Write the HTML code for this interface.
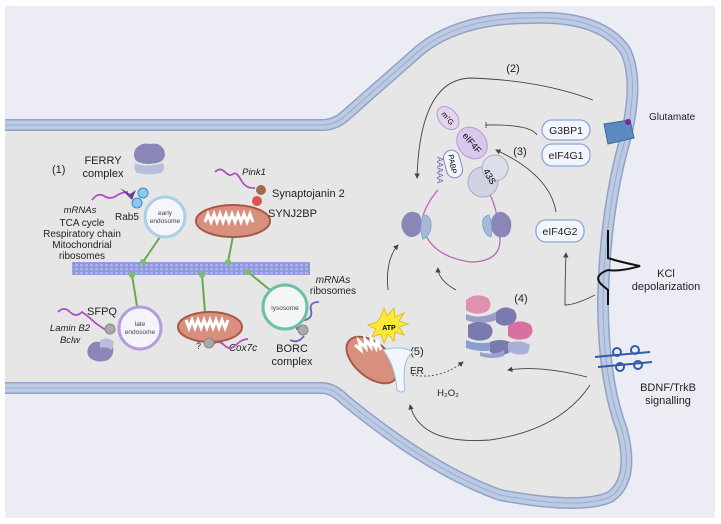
<!DOCTYPE html>
<html><head><meta charset="utf-8"><style>
html,body{margin:0;padding:0;background:#fff;}
svg{display:block;font-family:"Liberation Sans",sans-serif;}
</style></head><body>
<svg width="721" height="524" viewBox="0 0 721 524" xmlns="http://www.w3.org/2000/svg">
<defs>
<marker id="ar" markerWidth="6" markerHeight="6" refX="5" refY="3" orient="auto"><path d="M0,0 L6,3 L0,6 Z" fill="#444"/></marker>
<pattern id="mt" width="5" height="4" patternUnits="userSpaceOnUse"><rect width="5" height="4" fill="#8e96dc"/><rect width="3" height="2.5" fill="#aab1ec"/></pattern>
</defs>
<rect x="0" y="0" width="721" height="524" fill="#fff"/>
<rect x="5" y="6" width="710" height="512" fill="#ececf5"/>
<!-- cell -->
<path d="M0,125 L322,125 Q335,125 345,116 L420,50 Q460,18 530,18 Q600,15 625,50 Q640,80 625,140 Q605,210 603,300 Q603,380 622,430 Q635,480 610,497 Q580,510 500,495 Q430,470 345,400 Q333,388 322,388 L0,388 Z" fill="#e6e6e6"/>
<path d="M0,125 L322,125 Q335,125 345,116 L420,50 Q460,18 530,18 Q600,15 625,50 Q640,80 625,140 Q605,210 603,300 Q603,380 622,430 Q635,480 610,497 Q580,510 500,495 Q430,470 345,400 Q333,388 322,388 L0,388" fill="none" stroke="#8fa3c4" stroke-width="12"/>
<path d="M0,125 L322,125 Q335,125 345,116 L420,50 Q460,18 530,18 Q600,15 625,50 Q640,80 625,140 Q605,210 603,300 Q603,380 622,430 Q635,480 610,497 Q580,510 500,495 Q430,470 345,400 Q333,388 322,388 L0,388" fill="none" stroke="#bccbe3" stroke-width="9"/>
<path d="M0,125 L322,125 Q335,125 345,116 L420,50 Q460,18 530,18 Q600,15 625,50 Q640,80 625,140 Q605,210 603,300 Q603,380 622,430 Q635,480 610,497 Q580,510 500,495 Q430,470 345,400 Q333,388 322,388 L0,388" fill="none" stroke="#9aaccc" stroke-width="1"/>
<rect x="0" y="0" width="5" height="524" fill="#fff"/>
<rect x="715" y="0" width="6" height="524" fill="#fff"/>

<!-- microtubule -->
<rect x="72" y="262" width="238" height="13" fill="url(#mt)"/>
<g stroke="#6aa84f" stroke-width="2" fill="none">
<line x1="160" y1="237" x2="143" y2="262"/><line x1="132" y1="275" x2="137" y2="306"/>
<line x1="233" y1="236" x2="228" y2="262"/><line x1="202" y1="275" x2="205" y2="312"/>
<line x1="248" y1="272" x2="270" y2="290"/>
</g>
<g fill="#7cbf5a"><circle cx="143" cy="262" r="3"/><circle cx="132" cy="275" r="3"/><circle cx="228" cy="262" r="3"/><circle cx="202" cy="275" r="3"/><circle cx="248" cy="272" r="3"/></g>

<g font-size="11" fill="#222">
<text x="52" y="173">(1)</text>
<text x="103" y="164" text-anchor="middle">FERRY</text>
<text x="103" y="177" text-anchor="middle">complex</text>
<text x="115" y="220" font-size="10">Rab5</text>
<text x="80" y="213" text-anchor="middle" font-size="9.5" font-style="italic">mRNAs</text>
<text x="82" y="226" text-anchor="middle" font-size="10">TCA cycle</text>
<text x="82" y="237" text-anchor="middle" font-size="10">Respiratory chain</text>
<text x="82" y="248" text-anchor="middle" font-size="10">Mitochondrial</text>
<text x="82" y="259" text-anchor="middle" font-size="10">ribosomes</text>
<text x="254" y="175" font-size="9.5" font-style="italic" text-anchor="middle">Pink1</text>
<text x="272" y="197" font-size="11">Synaptojanin 2</text>
<text x="268" y="217" font-size="11">SYNJ2BP</text>
<text x="102" y="315" font-size="11" text-anchor="middle">SFPQ</text>
<text x="70" y="331" font-size="9.5" font-style="italic" text-anchor="middle">Lamin B2</text>
<text x="70" y="343" font-size="9.5" font-style="italic" text-anchor="middle">Bclw</text>
<text x="196" y="349" font-size="9">?</text>
<text x="243" y="351" font-size="10" font-style="italic" text-anchor="middle">Cox7c</text>
<text x="333" y="283" font-size="10" font-style="italic" text-anchor="middle">mRNAs</text>
<text x="333" y="294" font-size="10" text-anchor="middle">ribosomes</text>
<text x="292" y="352" font-size="11" text-anchor="middle">BORC</text>
<text x="292" y="365" font-size="11" text-anchor="middle">complex</text>
</g>

<g fill="none" stroke="#b04fc0" stroke-width="1.8">
<path d="M92,200 q6,-8 12,-4 t12,0 t12,-4"/>
<path d="M215,172 q5,-5 10,0 t8,2 t8,6 t14,8"/>
<path d="M58,312 q6,-6 12,0 t12,0 q6,4 10,8 t14,10"/>
<path d="M212,345 q6,-6 12,0 t12,0 t12,-6"/>
</g>
<path d="M297,330 q0,-8 8,-10 t6,-10 t8,-8" fill="none" stroke="#6868b8" stroke-width="1.8"/>
<path d="M290,340 q8,4 14,-4" fill="none" stroke="#6868b8" stroke-width="1.8"/>

<path d="M135,150 q5,-8 15,-6 q10,-2 14,6 q3,8 -4,12 q-12,4 -22,0 q-6,-4 -3,-12z" fill="#8a86b8"/>
<path d="M135,163 q10,5 28,0 q3,6 -2,10 q-12,3 -24,0 q-4,-4 -2,-10z" fill="#b8bfdc"/>
<path d="M120,188 l10,6 l6,-4 l-4,10 z" fill="#6a3d98"/>
<circle cx="143" cy="193" r="5" fill="#8ec8ee" stroke="#3a8ad0"/>
<circle cx="137" cy="203" r="5" fill="#8ec8ee" stroke="#3a8ad0"/>
<circle cx="165" cy="217" r="20" fill="#f4f6fa" stroke="#a8d0e6" stroke-width="3"/>
<text x="165" y="215" font-size="6.5" text-anchor="middle" fill="#444">early</text>
<text x="165" y="223" font-size="6.5" text-anchor="middle" fill="#444">endosome</text>
<ellipse cx="233" cy="221" rx="37" ry="16" fill="#d98f7e" stroke="#a55a48" stroke-width="2"/>
<path d="M205,222 l3,-8 l3,8 l3,-8 l3,8 l3,-8 l3,8 l3,-8 l3,8 l3,-8 l3,8 l3,-8 l3,8 l3,-8 l3,8 l3,-8 l3,8" fill="none" stroke="#fff" stroke-width="3"/>
<circle cx="261" cy="190" r="5" fill="#a06a50"/>
<circle cx="257" cy="201" r="5" fill="#e05050"/>
<circle cx="140" cy="328" r="21" fill="#f4f4fa" stroke="#b49ee0" stroke-width="3"/>
<text x="140" y="326" font-size="6.5" text-anchor="middle" fill="#444">late</text>
<text x="140" y="334" font-size="6.5" text-anchor="middle" fill="#444">endosome</text>
<circle cx="110" cy="329" r="5" fill="#aaa" stroke="#888"/>
<path d="M88,348 q4,-8 12,-6 q6,-4 12,2 q4,10 -4,16 q-10,4 -18,-2 q-4,-4 -2,-10z" fill="#8a86b8"/>
<path d="M100,340 q8,-4 14,2 l-2,8 q-6,-4 -12,-2z" fill="#b8bfdc"/>
<ellipse cx="210" cy="327" rx="32" ry="15" fill="#d98f7e" stroke="#a55a48" stroke-width="2"/>
<path d="M186,320 l3,8 l3,-8 l3,8 l3,-8 l3,8 l3,-8 l3,8 l3,-8 l3,8 l3,-8 l3,8 l3,-8 l3,8 l3,-8" fill="none" stroke="#fff" stroke-width="3"/>
<circle cx="209" cy="343" r="5" fill="#aaa" stroke="#888"/>
<circle cx="285" cy="307" r="22" fill="#f4f6f6" stroke="#6cc0a8" stroke-width="3"/>
<text x="285" y="310" font-size="6.5" text-anchor="middle" fill="#444">lysosome</text>
<circle cx="303" cy="330" r="5" fill="#aaa" stroke="#888"/>

<g font-size="11" fill="#222">
<text x="513" y="72" text-anchor="middle">(2)</text>
<text x="520" y="155" text-anchor="middle">(3)</text>
<text x="521" y="302" text-anchor="middle">(4)</text>
<text x="417" y="355" text-anchor="middle">(5)</text>
<text x="410" y="374" font-size="10">ER</text>
<text x="448" y="396" font-size="9.5" text-anchor="middle">H₂O₂</text>
<text x="649" y="120" font-size="10">Glutamate</text>
<text x="666" y="277" text-anchor="middle">KCl</text>
<text x="666" y="290" text-anchor="middle">depolarization</text>
<text x="668" y="391" text-anchor="middle">BDNF/TrkB</text>
<text x="668" y="404" text-anchor="middle">signalling</text>
</g>
<g fill="#f2f5fb" stroke="#8aa8d8" stroke-width="1.3">
<rect x="542" y="120" width="48" height="20" rx="10"/>
<rect x="542" y="144" width="48" height="22" rx="10"/>
<rect x="536" y="220" width="48" height="22" rx="10"/>
</g>
<g font-size="10.5" fill="#222" text-anchor="middle">
<text x="566" y="134">G3BP1</text><text x="566" y="159">eIF4G1</text><text x="560" y="235">eIF4G2</text>
</g>
<g fill="none" stroke="#444" stroke-width="0.9">
<path d="M593,100 Q540,80 470,78 Q420,80 417,178" marker-end="url(#ar)"/>
<path d="M537,135 Q530,124 486,125"/><line x1="486" y1="122" x2="486" y2="128"/>
<path d="M556,212 Q550,175 496,150" marker-end="url(#ar)"/>
<path d="M388,290 Q385,260 398,245" marker-end="url(#ar)"/>
<path d="M456,290 Q438,280 438,268" marker-end="url(#ar)"/>
<path d="M595,295 Q575,305 565,305 Q565,280 566,253" marker-end="url(#ar)"/>
<path d="M587,377 Q540,365 508,370" marker-end="url(#ar)"/>
<path d="M590,385 Q560,430 490,440 Q420,445 410,405" marker-end="url(#ar)"/>
<path d="M412,375 Q440,380 463,362" stroke-dasharray="2,2" marker-end="url(#ar)"/>
</g>
<path d="M438,190 Q425,205 422,220 Q425,255 470,262 Q500,262 500,240 Q498,210 490,195" fill="none" stroke="#c060c0" stroke-width="1.3"/>
<ellipse cx="448" cy="118" rx="9" ry="13" transform="rotate(-40 448 118)" fill="#e4d4ee" stroke="#b89ad0"/>
<text x="448" y="121" font-size="7.5" text-anchor="middle" transform="rotate(50 448 118)">m⁷G</text>
<ellipse cx="472" cy="143" rx="14" ry="17" transform="rotate(-40 472 143)" fill="#d8c8ee" stroke="#b89ad0"/>
<text x="472" y="146" font-size="9" text-anchor="middle" transform="rotate(50 472 143)">eIF4F</text>
<rect x="445" y="150" width="16" height="28" rx="8" transform="rotate(-15 453 164)" fill="#f4f4fb" stroke="#7a8cc8"/>
<text x="453" y="167" font-size="7.5" text-anchor="middle" transform="rotate(80 453 164)">PABP</text>
<text x="437" y="170" font-size="8" fill="#6a5ab0" text-anchor="middle" transform="rotate(90 437 170)">AAAAA</text>
<circle cx="483" cy="182" r="15" fill="#cfd3e3" stroke="#aab"/>
<circle cx="495" cy="168" r="13" fill="#dcdfeb" stroke="#aab"/>
<text x="487" y="178" font-size="9" text-anchor="middle" transform="rotate(60 487 178)">43S</text>
<path d="M403,218 q6,-10 16,-4 q6,10 0,20 q-8,6 -14,0 q-6,-8 -2,-16z" fill="#8a86b8"/>
<path d="M423,215 q8,0 8,10 q0,10 -8,14 q-4,-10 0,-24z" fill="#b0b4d8" stroke="#60b8c8"/>
<path d="M506,214 q-8,-6 -14,4 q-4,10 4,18 q10,4 14,-4 q4,-12 -4,-18z" fill="#8a86b8"/>
<path d="M489,215 q-8,2 -6,12 q2,8 8,10 q2,-12 -2,-22z" fill="#b0b4d8" stroke="#60b8c8"/>
<g>
<path d="M466,300 q10,-8 22,-2 q6,8 -2,14 q-12,4 -20,-2z" fill="#e090b0"/>
<path d="M466,314 q14,6 30,-2 l0,8 q-14,6 -30,0z" fill="#9a9ec8"/>
<path d="M496,312 q8,-8 18,-2 q6,8 -2,14 q-10,4 -16,-2z" fill="#7a7ab0"/>
<path d="M468,325 q10,-6 22,0 q6,8 -2,14 q-12,4 -20,-2z" fill="#7a7ab0"/>
<path d="M508,326 q10,-8 22,-2 q6,8 -2,14 q-12,4 -20,-2z" fill="#d870a0"/>
<path d="M466,340 q14,6 36,0 l0,8 q-18,6 -36,0z" fill="#8a9ed0"/>
<path d="M490,342 q10,-4 20,0 l0,10 q-10,6 -20,0z" fill="#7a7ab0"/>
<path d="M508,343 q12,-4 22,2 l-2,8 q-10,4 -20,-2z" fill="#a8aed8"/>
<path d="M480,352 q14,4 24,-2 l0,6 q-12,4 -24,0z" fill="#9aa0d0"/>
</g>
<path d="M380,318 l4,-10 l3,8 l7,-8 l1,9 l9,-4 l-5,8 l9,3 l-9,3 l5,8 l-9,-3 l-1,9 l-6,-7 l-4,9 l-3,-9 l-9,3 l4,-8 l-8,-4 l9,-3z" fill="#fbe93a" stroke="#e0c020"/>
<text x="389" y="330" font-size="7" font-weight="bold" text-anchor="middle">ATP</text>
<ellipse cx="372" cy="360" rx="30" ry="17" transform="rotate(40 372 360)" fill="#d98f7e" stroke="#a55a48" stroke-width="2"/>
<path d="M355,345 l6,5 l-2,-9 l7,7 l-1,-9 l6,8 l0,-8 l5,9 l1,-8 l4,10" fill="none" stroke="#fff" stroke-width="3"/>
<path d="M383,350 q18,-5 30,2 q-12,8 -8,38 q-4,4 -8,0 q-2,-25 -14,-40z" fill="#f2f6fc" stroke="#9bc0e0"/>
<path d="M604,124 l26,-4 l4,18 l-26,6 z" fill="#5a8ac0" stroke="#3a6aa0"/>
<circle cx="628" cy="122" r="3" fill="#7a2a8a"/>
<path d="M608,230 L608,258 Q620,262 640,266 Q620,272 608,270 Q592,276 602,285 L608,290 L608,305" fill="none" stroke="#111" stroke-width="2"/>
<g stroke="#2f5ca8" stroke-width="2" fill="none">
<path d="M595,357 L650,352"/><path d="M598,367 L652,362"/>
<circle cx="617" cy="352" r="4"/><circle cx="635" cy="350" r="4"/>
<circle cx="620" cy="367" r="4"/><circle cx="638" cy="365" r="4"/>
</g>
</svg>
</body></html>
